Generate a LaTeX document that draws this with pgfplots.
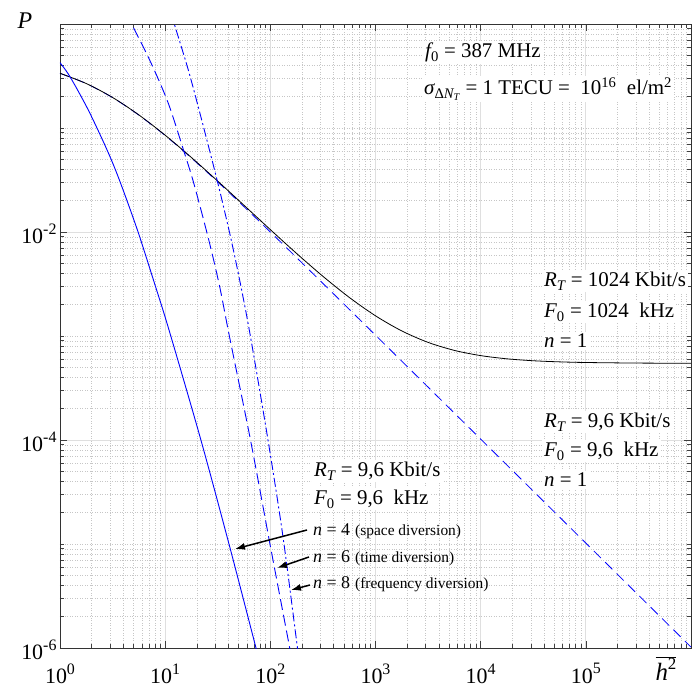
\documentclass[border=0pt]{standalone}
\usepackage{fontspec}
\setmainfont{Liberation Serif}
\usepackage{pgfplots}
\pgfplotsset{compat=1.18}
\usetikzlibrary{arrows.meta}

\newcommand{\annf}{\fontsize{21}{24}\selectfont}
\newcommand{\nf}{\fontsize{18}{20}\selectfont}
\newcommand{\smallf}{\fontsize{15.5}{17}\selectfont}
\newcommand{\tickf}{\fontsize{22}{23}\selectfont}
\newcommand{\tp}[1]{10\raisebox{0.42em}{\fontsize{16}{16}\selectfont #1}}

\begin{document}
\begin{tikzpicture}
\begin{axis}[
    name=ax,
    scale only axis,
    width=631bp, height=624bp,
    xmode=log, ymode=log,
    xmin=1, xmax=1e6,
    ymin=1e-6, ymax=1,
    xtick={1,10,100,1000,10000,100000},
    xticklabels={\tp{0},\tp{1},\tp{2},\tp{3},\tp{4},\tp{5}},
    ytick={1e-6,1e-4,1e-2},
    yticklabels={\tp{-6},\tp{-4},\tp{-2}},
    minor xtick={2,3,4,5,6,7,8,9,20,30,40,50,60,70,80,90,200,300,400,500,600,700,800,900,
                 2000,3000,4000,5000,6000,7000,8000,9000,2e4,3e4,4e4,5e4,6e4,7e4,8e4,9e4,
                 2e5,3e5,4e5,5e5,6e5,7e5,8e5,9e5},
    minor ytick={2e-6,3e-6,4e-6,5e-6,6e-6,7e-6,8e-6,9e-6,1e-5,2e-5,3e-5,4e-5,5e-5,6e-5,7e-5,8e-5,9e-5,
                 2e-4,3e-4,4e-4,5e-4,6e-4,7e-4,8e-4,9e-4,1e-3,2e-3,3e-3,4e-3,5e-3,6e-3,7e-3,8e-3,9e-3,
                 2e-2,3e-2,4e-2,5e-2,6e-2,7e-2,8e-2,9e-2,0.1,0.2,0.3,0.4,0.5,0.6,0.7,0.8,0.9},
    xtick pos=both, ytick pos=both,
    tick align=inside,
    major tick length=7bp, minor tick length=4bp,
    tick style={black!75, line width=0.6bp},
    grid=both,
    major grid style={gray!25, line width=0.8bp},
    minor grid style={gray!45, line width=0.5bp, dotted},
    axis line style={black!80, line width=0.9bp},
    tick label style={font=\tickf},
    xticklabel style={yshift=-12bp},
    yticklabel style={yshift=-2bp},
]

% n = 1, R_T = 9,6 kbit/s
\addplot[blue, line width=0.8bp, dash pattern=on 10bp off 6bp, smooth] coordinates {
  (1,0.3355) (1.778,0.2672) (3.162,0.1961) (5.623,0.1331) (10,0.08472)
  (17.78,0.05146) (31.62,0.03030) (56.23,0.01750) (100,0.009996)
  (177.8,0.005672) (316.2,0.003205) (1000,0.001018) (1e4,1.02e-4)
  (1e5,1.02e-5) (1e6,1.02e-6)
};

% n = 1, R_T = 1024 kbit/s
\addplot[black, line width=0.8bp, smooth] coordinates {
  (1,0.3360) (1.778,0.2677) (3.162,0.1966) (5.623,0.1336) (10,0.08527)
  (17.78,0.05201) (31.62,0.03085) (56.23,0.01805) (100,0.01054)
  (177.8,0.006218) (316.2,0.003751) (562.3,0.002353) (1000,0.001564)
  (1778,0.001119) (3162,8.684e-4) (5623,7.273e-4) (1e4,6.480e-4)
  (17780,6.034e-4) (31620,5.783e-4) (56230,5.641e-4) (1e5,5.562e-4)
  (316200,5.492e-4) (1e6,5.470e-4)
};

% n = 4 (space diversion)
\addplot[blue, line width=0.9bp, smooth] coordinates {
  (1,0.4245) (1.245,0.3113) (1.858,0.1490) (2.804,0.06143) (3.671,0.03162)
  (5.445,0.01045) (7.918,3.21e-3) (10.88,1.142e-3) (21.87,1e-4)
  (41.08,9.42e-6) (73.22,9.93e-7) (77.5,7.96e-7)
};

% n = 6 (time diversion)
\addplot[blue, line width=0.9bp, dash pattern=on 11bp off 5bp, smooth] coordinates {
  (4.31,1.267) (4.807,1.0) (7.365,0.4189) (10.71,0.1728) (14.94,0.06143)
  (18.72,0.02939) (25.99,8.375e-3) (33.00,2.979e-3) (40.90,9.85e-4)
  (64.77,1e-4) (100.3,9.42e-6) (153.1,9.93e-7) (159.3,7.96e-7)
};

% n = 8 (frequency diversion)
\addplot[blue, line width=0.9bp, dash pattern=on 9bp off 3bp on 2bp off 3bp, smooth] coordinates {
  (11.40,1.259) (12.21,1.0) (16.60,0.3611) (22.25,0.1194) (31.45,0.03046)
  (41.80,9.01e-3) (52.60,2.979e-3) (64.75,9.85e-4) (95.01,1e-4)
  (131.9,1.175e-5) (181.3,9.93e-7) (190.5,6.8e-7)
};

\end{axis}

% annotations (baselines measured from the top left corner of the axis)
\begin{scope}[every node/.style={anchor=base west, fill=white, inner sep=2bp, font=\annf}]
\node at ([xshift=363bp,yshift=-34bp]ax.north west) {{\itshape f}\textsubscript{0} = 387 MHz};
\node at ([xshift=362bp,yshift=-71bp]ax.north west) {{\itshape σ}\textsubscript{Δ{\itshape N}\textsubscript{\itshape T}} = 1 TECU =~ 10\textsuperscript{16}~ el/m\textsuperscript{2}};
\node at ([xshift=482bp,yshift=-263bp]ax.north west) {{\itshape R}\textsubscript{\itshape T} = 1024 Kbit/s};
\node at ([xshift=482bp,yshift=-294bp]ax.north west) {{\itshape F}\textsubscript{0} = 1024~ kHz};
\node at ([xshift=482bp,yshift=-324bp]ax.north west) {{\itshape n} = 1};
\node at ([xshift=482bp,yshift=-404bp]ax.north west) {{\itshape R}\textsubscript{\itshape T} = 9,6 Kbit/s};
\node at ([xshift=482bp,yshift=-433bp]ax.north west) {{\itshape F}\textsubscript{0} = 9,6~ kHz};
\node at ([xshift=482bp,yshift=-463bp]ax.north west) {{\itshape n} = 1};
\node at ([xshift=252bp,yshift=-453bp]ax.north west) {{\itshape R}\textsubscript{\itshape T} = 9,6 Kbit/s};
\node at ([xshift=252bp,yshift=-481bp]ax.north west) {{\itshape F}\textsubscript{0} = 9,6~ kHz};
\end{scope}
\begin{scope}[every node/.style={anchor=base west, inner sep=1bp}]
\node at ([xshift=252bp,yshift=-512bp]ax.north west) {{\nf{\itshape n} = 4}~ {\smallf(space diversion)}};
\node at ([xshift=252bp,yshift=-538bp]ax.north west) {{\nf{\itshape n} = 6}~ {\smallf(time diversion)}};
\node at ([xshift=252bp,yshift=-564bp]ax.north west) {{\nf{\itshape n} = 8}~ {\smallf(frequency diversion)}};
\end{scope}
\begin{scope}[line width=1.5bp, -{Latex[length=10bp,width=7bp]}]
\draw ([xshift=247bp,yshift=-506bp]ax.north west) -- ([xshift=175bp,yshift=-525bp]ax.north west);
\draw ([xshift=249bp,yshift=-533bp]ax.north west) -- ([xshift=217bp,yshift=-544bp]ax.north west);
\draw ([xshift=250bp,yshift=-561bp]ax.north west) -- ([xshift=231bp,yshift=-566bp]ax.north west);
\end{scope}

% axis labels
\node[font=\fontsize{24}{25}\selectfont\itshape] at ([xshift=-35bp,yshift=3bp]ax.north west) {P};
\node[font=\fontsize{25}{26}\selectfont, anchor=north] at ([xshift=-25bp,yshift=-5bp]ax.south east)
  {$\overline{\mbox{\itshape h\raisebox{0.42em}{\upshape\fontsize{17}{17}\selectfont 2}}}$};

\pgfresetboundingbox
\path ([xshift=-60bp,yshift=-43bp]ax.south west) rectangle ([xshift=6bp,yshift=24bp]ax.north east);
\end{tikzpicture}
\end{document}
